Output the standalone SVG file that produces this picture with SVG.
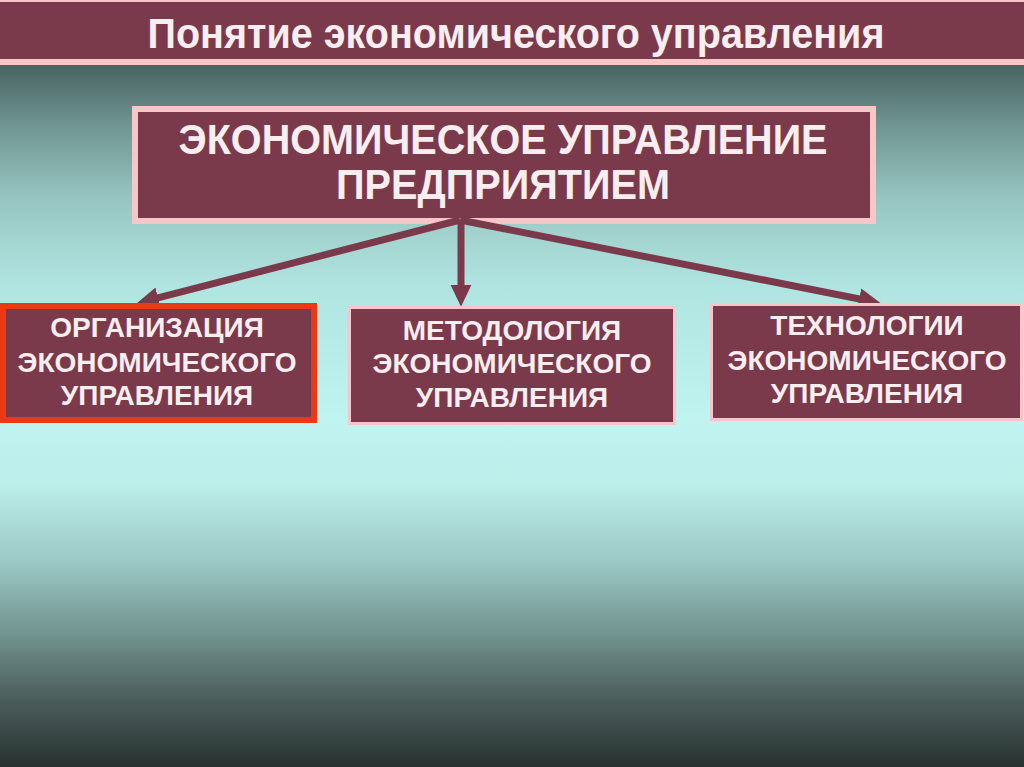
<svg xmlns="http://www.w3.org/2000/svg" width="1024" height="767" viewBox="0 0 1024 767">
  <defs>
    <linearGradient id="bg" x1="0" y1="0" x2="0" y2="767" gradientUnits="userSpaceOnUse">
      <stop offset="0.085" stop-color="#4a6462"/>
      <stop offset="0.16" stop-color="#6e9390"/>
      <stop offset="0.26" stop-color="#97c6c2"/>
      <stop offset="0.37" stop-color="#b0e4e0"/>
      <stop offset="0.55" stop-color="#c0f4f0"/>
      <stop offset="0.63" stop-color="#bceeea"/>
      <stop offset="0.73" stop-color="#9ccac6"/>
      <stop offset="0.835" stop-color="#6e8e8a"/>
      <stop offset="0.915" stop-color="#4a5c5a"/>
      <stop offset="1" stop-color="#283230"/>
    </linearGradient>
    <marker id="arrow" markerUnits="userSpaceOnUse" markerWidth="22" markerHeight="22" viewBox="0 0 21 20" refX="4" refY="10" orient="auto">
      <path d="M0,0 L21,10 L0,20 z" fill="#7b3a4b"/>
    </marker>
  </defs>
  <style>
    .box { fill: #7b3a4b; }
    .pink { stroke: #f7c6c8; }
    .txt { font-family: "Liberation Sans", Arial, sans-serif; font-weight: bold; fill: #f8eef0; text-anchor: middle; }
    .big { font-size: 42px; }
    .small { font-size: 28px; }
    .conn { stroke: #7b3a4b; stroke-width: 7; fill: none; marker-end: url(#arrow); }
  </style>

  <rect x="0" y="0" width="1024" height="767" fill="url(#bg)"/>

  <g id="title">
    <rect x="0" y="0" width="1024" height="65" fill="#f7c6c8"/>
    <rect x="0" y="2" width="1024" height="57" class="box"/>
    <text x="516" y="48" class="txt" font-size="42" textLength="737" lengthAdjust="spacingAndGlyphs">Понятие экономического управления</text>
  </g>

  <g id="node-main">
    <rect x="135" y="109" width="738" height="112" class="box pink" stroke-width="6"/>
    <text x="503" y="154" class="txt big" textLength="649" lengthAdjust="spacingAndGlyphs">ЭКОНОМИЧЕСКОЕ УПРАВЛЕНИЕ</text>
    <text x="503" y="199" class="txt big" textLength="334" lengthAdjust="spacingAndGlyphs">ПРЕДПРИЯТИЕМ</text>
  </g>

  <g id="connectors">
    <line x1="460" y1="220" x2="154" y2="298.8" class="conn"/>
    <line x1="461" y1="220" x2="461" y2="289" class="conn"/>
    <line x1="460" y1="220" x2="863.3" y2="299.7" class="conn"/>
  </g>

  <g id="node-org">
    <rect x="3" y="306" width="311" height="114" class="box" stroke="#e83a14" stroke-width="6"/>
    <text x="157" y="337" class="txt small">ОРГАНИЗАЦИЯ</text>
    <text x="157" y="372" class="txt small">ЭКОНОМИЧЕСКОГО</text>
    <text x="157" y="405" class="txt small">УПРАВЛЕНИЯ</text>
  </g>

  <g id="node-method">
    <rect x="349.5" y="307.5" width="325" height="116" class="box pink" stroke-width="3"/>
    <text x="512" y="340" class="txt small">МЕТОДОЛОГИЯ</text>
    <text x="512" y="373" class="txt small">ЭКОНОМИЧЕСКОГО</text>
    <text x="512" y="407" class="txt small">УПРАВЛЕНИЯ</text>
  </g>

  <g id="node-tech">
    <rect x="711.5" y="304.5" width="310" height="115" class="box pink" stroke-width="3"/>
    <text x="867" y="335" class="txt small">ТЕХНОЛОГИИ</text>
    <text x="867" y="370" class="txt small">ЭКОНОМИЧЕСКОГО</text>
    <text x="867" y="403" class="txt small">УПРАВЛЕНИЯ</text>
  </g>
</svg>
